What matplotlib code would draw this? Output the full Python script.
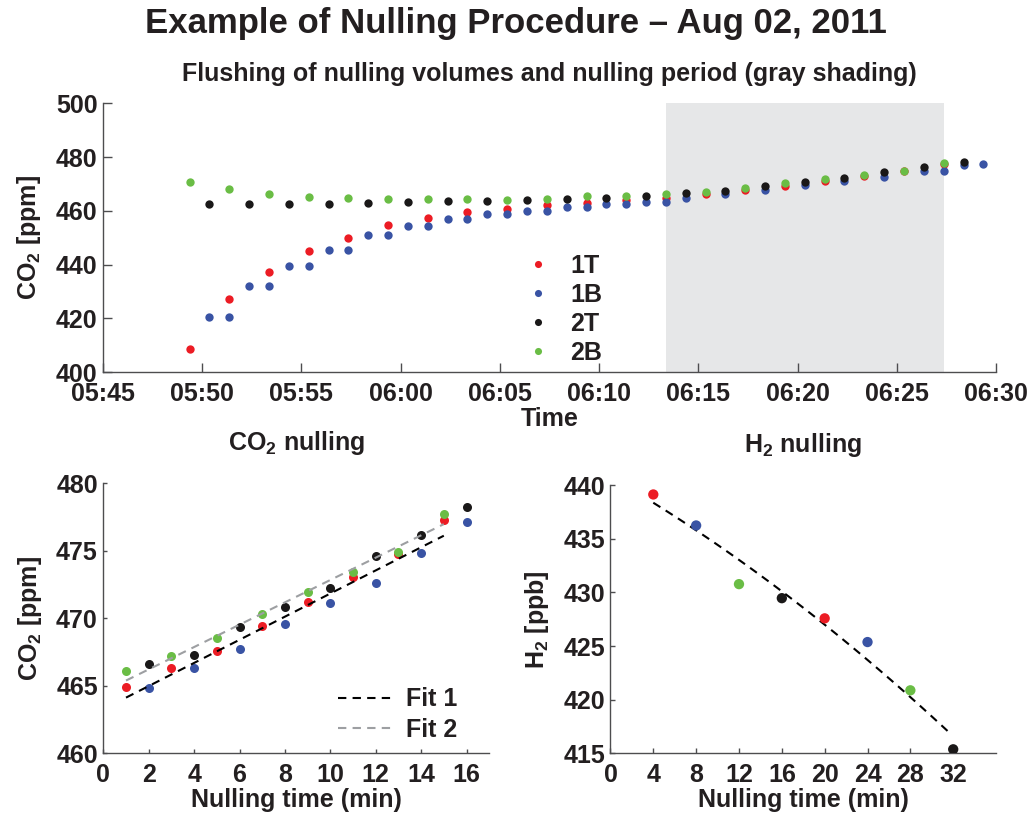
import numpy as np
import pandas as pd
import matplotlib
matplotlib.use("Agg")
import matplotlib.pyplot as plt
import matplotlib.dates as mdates

plt.rcParams["font.family"] = ["Liberation Sans", "DejaVu Sans"]
plt.rcParams["font.weight"] = "bold"
plt.rcParams["mathtext.fontset"] = "custom"
plt.rcParams["mathtext.rm"] = "Liberation Sans:bold"
plt.rcParams["mathtext.bf"] = "Liberation Sans:bold"
plt.rcParams["text.color"] = "#231f20"
plt.rcParams["axes.labelcolor"] = "#231f20"
plt.rcParams["xtick.color"] = "#231f20"
plt.rcParams["ytick.color"] = "#231f20"

RED = "#ec1c24"
BLUE = "#3953a4"
BLACK = "#1a1818"
GREEN = "#6abd45"
SHADE = "#e6e7e8"
FS = 18

# sampling clock of the inlet sequence (one sample per minute)
T_START = "2011-08-02 05:49:22"
NULL_FIRST, NULL_LAST = 24, 38  # samples inside the nulling period

# top panel: sample index -> CO2 [ppm]
red_idx = [0, 2, 4, 6, 8, 10, 12, 14, 16, 18, 20, 22, 24, 26, 28, 30, 32, 34, 36, 38]
red_co2 = [408.8, 427.4, 437.2, 445.0, 450.0, 454.8, 457.5, 459.5, 460.8, 462.1,
           463.0, 464.1, 464.9, 466.3, 467.6, 469.4, 471.2, 473.0, 474.8, 477.3]
blue_idx = [1, 2, 3, 4, 5, 6, 7, 8, 9, 10, 11, 12, 13, 14, 15, 16, 17, 18, 19, 20,
            21, 22, 23, 24, 25, 27, 29, 31, 33, 35, 37, 38, 39, 40]
blue_co2 = [420.4, 420.4, 432.0, 432.0, 439.6, 439.6, 445.6, 445.6, 450.9, 450.9,
            454.4, 454.4, 457.1, 457.1, 458.7, 458.7, 460.0, 460.0, 461.4, 461.4,
            462.5, 462.5, 463.4, 463.4, 464.8, 466.3, 467.7, 469.6, 471.1, 472.6,
            474.8, 474.8, 477.2, 477.3]
black_idx = [1, 3, 5, 7, 9, 11, 13, 15, 17, 19, 21, 23, 25, 27, 29, 31, 33, 35, 37, 39]
black_co2 = [462.6, 462.5, 462.5, 462.6, 463.0, 463.4, 463.7, 463.7, 463.9, 464.5,
             464.9, 465.5, 466.6, 467.3, 469.3, 470.8, 472.2, 474.6, 476.2, 478.3]
green_idx = [0, 2, 4, 6, 8, 10, 12, 14, 16, 18, 20, 22, 24, 26, 28, 30, 32, 34, 36, 38]
green_co2 = [470.8, 468.3, 466.4, 465.3, 464.7, 464.5, 464.4, 464.4, 463.9, 464.4,
             465.4, 465.5, 466.1, 467.2, 468.5, 470.3, 471.9, 473.4, 474.9, 477.7]

# CO2 nulling: nulling time [min] -> CO2 [ppm]
n_red = [1, 3, 5, 7, 9, 11, 13, 15]
c_red = [464.94, 466.33, 467.59, 469.44, 471.20, 473.03, 474.76, 477.26]
n_blue = [2, 4, 6, 8, 10, 12, 14, 16]
c_blue = [464.84, 466.31, 467.74, 469.61, 471.13, 472.61, 474.84, 477.16]
n_black = [2, 4, 6, 8, 10, 12, 14, 16]
c_black = [466.60, 467.29, 469.35, 470.83, 472.24, 474.58, 476.19, 478.25]
n_green = [1, 3, 5, 7, 9, 11, 13, 15]
c_green = [466.13, 467.24, 468.53, 470.33, 471.94, 473.40, 474.91, 477.73]

# H2 nulling: nulling time [min] -> H2 [ppb]
h2_time = [4, 8, 12, 16, 20, 24, 28, 32]
h2_ppb = [439.13, 436.24, 430.77, 429.46, 427.58, 425.37, 420.87, 415.37]
h2_cols = [RED, BLUE, GREEN, BLACK, RED, BLUE, GREEN, BLACK]

co2_label = "CO$_2$ [ppm]"


def to_time(idx):
    return pd.Timestamp(T_START) + pd.to_timedelta(np.asarray(idx), unit="min")


def style(ax, ticklen):
    for s in ["top", "right"]:
        ax.spines[s].set_visible(False)
    for s in ["left", "bottom"]:
        ax.spines[s].set_color("#4d4d4f")
        ax.spines[s].set_linewidth(1.0)
    ax.tick_params(direction="in", length=ticklen, width=1.0, labelsize=FS,
                   color="#4d4d4f")
    ax.tick_params(axis="x", pad=7)
    ax.tick_params(axis="y", pad=4)
    for lab in ax.get_xticklabels() + ax.get_yticklabels():
        lab.set_fontweight("bold")


fig = plt.figure(figsize=(10.31, 8.17), dpi=100)
fig.text(0.5, 0.971, "Example of Nulling Procedure \u2013 Aug 02, 2011",
         ha="center", va="center", fontsize=25, fontweight="bold")

# --- top: flushing + nulling period
ax = fig.add_axes([0.0999, 0.5443, 0.8661, 0.3293])
ax.axvspan(to_time(NULL_FIRST), to_time(NULL_LAST), color=SHADE, lw=0, zorder=0)
ms = 6
ax.plot(to_time(red_idx), red_co2, "o", color=RED, ms=ms, mec="none", label="1T")
ax.plot(to_time(blue_idx), blue_co2, "o", color=BLUE, ms=ms, mec="none", label="1B")
ax.plot(to_time(black_idx), black_co2, "o", color=BLACK, ms=ms, mec="none", label="2T")
ax.plot(to_time(green_idx), green_co2, "o", color=GREEN, ms=ms, mec="none", label="2B")
ax.set_xlim(pd.Timestamp("2011-08-02 05:45"), pd.Timestamp("2011-08-02 06:30"))
ax.set_ylim(400, 500)
ax.set_yticks([400, 420, 440, 460, 480, 500])
ax.xaxis.set_major_locator(mdates.MinuteLocator(byminute=range(0, 60, 5)))
ax.xaxis.set_major_formatter(mdates.DateFormatter("%H:%M"))
style(ax, 6.5)
ax.set_xlabel("Time", fontsize=FS, fontweight="bold", labelpad=1)
ax.set_ylabel(co2_label, fontsize=FS, fontweight="bold", labelpad=9)
ax.set_title("Flushing of nulling volumes and nulling period (gray shading)",
             fontsize=18, fontweight="bold", pad=16)
ax.legend(loc="upper left", bbox_to_anchor=(0.448, 0.525), frameon=False,
          fontsize=FS, handletextpad=0.8, labelspacing=0.2,
          handlelength=1.0, markerscale=0.85)

# --- bottom left: CO2 nulling
ax2 = fig.add_axes([0.1002, 0.0780, 0.3743, 0.3304])
ax2.plot(n_red, c_red, "o", color=RED, ms=6.5, mec="none")
ax2.plot(n_blue, c_blue, "o", color=BLUE, ms=6.5, mec="none")
ax2.plot(n_black, c_black, "o", color=BLACK, ms=6.5, mec="none")
ax2.plot(n_green, c_green, "o", color=GREEN, ms=6.5, mec="none")
# linear fits of each inlet pair, drawn over the odd sampling times
fit_x = np.array([1, 15])
p1 = np.polyfit(n_red + n_blue, c_red + c_blue, 1)
p2 = np.polyfit(n_black + n_green, c_black + c_green, 1)
ax2.plot(fit_x, np.polyval(p1, fit_x), "--", color="black", lw=1.5,
         dashes=(4, 3), label="Fit 1")
ax2.plot(fit_x, np.polyval(p2, fit_x), "--", color="#9d9fa2", lw=1.5,
         dashes=(4, 3), label="Fit 2")
ax2.set_xlim(0, 17)
ax2.set_ylim(460, 480)
ax2.set_xticks(range(0, 17, 2))
ax2.set_yticks(range(460, 481, 5))
style(ax2, 3)
ax2.set_xlabel("Nulling time (min)", fontsize=FS, fontweight="bold", labelpad=1)
ax2.set_ylabel(co2_label, fontsize=FS, fontweight="bold", labelpad=9)
ax2.set_title("CO$_2$ nulling", fontsize=FS, fontweight="bold", pad=24)
ax2.legend(loc="lower right", bbox_to_anchor=(0.975, -0.04), frameon=False,
           fontsize=FS, handlelength=2.1, handletextpad=0.6, labelspacing=0.25)

# --- bottom right: H2 nulling
ax3 = fig.add_axes([0.5921, 0.0780, 0.3740, 0.3282])
ax3.scatter(h2_time, h2_ppb, s=55, c=h2_cols, edgecolors="none", zorder=3)
ph = np.polyfit(h2_time, h2_ppb, 2)
fx = np.linspace(h2_time[0], h2_time[-1] - 0.5, 100)
ax3.plot(fx, np.polyval(ph, fx), "--", color="black", lw=1.5, dashes=(4, 3))
ax3.set_xlim(0, 36)
ax3.set_ylim(415, 440)
ax3.set_xticks(range(0, 33, 4))
ax3.set_yticks(range(415, 441, 5))
style(ax3, 3.5)
ax3.set_xlabel("Nulling time (min)", fontsize=FS, fontweight="bold", labelpad=1)
ax3.set_ylabel("H$_2$ [ppb]", fontsize=FS, fontweight="bold", labelpad=9)
ax3.set_title("H$_2$ nulling", fontsize=FS, fontweight="bold", pad=24)

fig.savefig("out.png", dpi=100)
